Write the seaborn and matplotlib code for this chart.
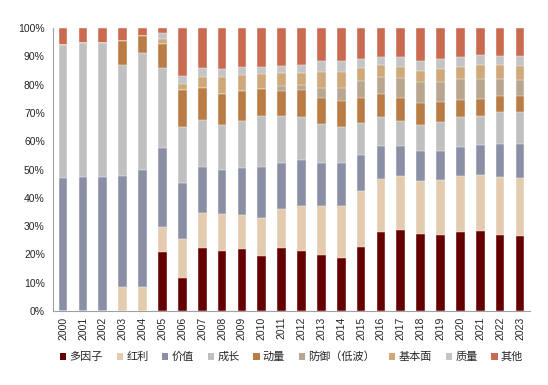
import numpy as np
import pandas as pd
import seaborn as sns
import matplotlib.pyplot as plt
from matplotlib.patches import Patch
from matplotlib.ticker import PercentFormatter

years = [str(y) for y in range(2000, 2024)]

# share of each style per year (%)
duoyinzi = [0, 0, 0, 0, 0, 20.8, 11.6, 22.2, 21.4, 21.9, 19.6, 22.4, 21.4, 19.9, 18.7, 22.6,
            27.8, 28.8, 27.2, 27.0, 27.9, 28.4, 26.9, 26.6]
hongli = [0, 0, 0, 8.6, 8.6, 8.8, 14.0, 12.5, 12.8, 12.2, 13.2, 13.5, 15.8, 17.1, 18.6, 19.9,
          18.7, 18.9, 18.6, 19.4, 19.8, 19.8, 20.6, 20.6]
jiazhi = [47.0, 47.3, 47.3, 39.1, 41.2, 28.0, 19.6, 16.2, 15.6, 16.4, 18.1, 16.6, 16.2, 15.3, 14.9, 12.6,
          11.8, 10.8, 10.8, 10.3, 10.3, 10.5, 11.7, 12.0]
chengzhang = [47.1, 47.5, 47.5, 39.3, 41.4, 28.3, 20.0, 16.6, 15.8, 16.6, 18.0, 16.6, 15.1, 13.7, 13.0, 11.4,
              10.2, 8.7, 9.1, 10.0, 10.6, 10.2, 11.2, 11.0]
dongliang = [0, 0, 0, 8.6, 6.0, 8.5, 13.0, 11.4, 11.2, 10.7, 9.7, 8.8, 9.8, 9.4, 9.1, 8.9,
             8.3, 8.2, 7.9, 7.2, 6.1, 6.1, 5.7, 5.9]
fangyu = [0, 0, 0, 0, 0, 0, 0, 0, 0, 0, 0, 1.7, 1.7, 3.4, 4.6, 5.9,
          5.8, 6.8, 7.2, 7.2, 7.2, 7.1, 6.0, 5.7]
jibenmian = [0, 0, 0, 0, 0, 1.9, 1.9, 3.8, 6.0, 5.6, 5.2, 4.7, 4.3, 5.8, 5.7, 4.7,
             4.3, 4.0, 4.2, 4.5, 4.5, 5.0, 4.8, 4.9]
zhiliang = [0, 0, 0, 0, 0, 1.9, 3.1, 3.2, 2.9, 2.9, 2.6, 2.3, 2.7, 3.6, 3.7, 3.1,
            2.9, 3.5, 3.4, 3.5, 3.4, 3.3, 3.3, 3.4]

labels = ['多因子', '红利', '价值', '成长', '动量', '防御（低波）', '基本面', '质量', '其他']
colors = ['#650000', '#E2CBAE', '#8A8FA5', '#C0C0C0', '#B97C45', '#B9A690', '#CFA97A', '#C4C4C4', '#CA6A4F']

series = [duoyinzi, hongli, jiazhi, chengzhang, dongliang, fangyu, jibenmian, zhiliang]
df = pd.DataFrame(dict(zip(labels[:-1], series)), index=years)
df['其他'] = 100 - df.sum(axis=1)
cum = df.cumsum(axis=1)

sns.set_style('white')
plt.rcParams['font.family'] = ['Liberation Sans', 'Noto Sans CJK SC']

fig = plt.figure(figsize=(5.48, 3.85), dpi=100)
ax = fig.add_axes([0.097, 0.192, 0.870, 0.735])

# draw cumulative tops from the last series down so each layer covers the one above
for lab, col in reversed(list(zip(labels, colors))):
    sns.barplot(x=years, y=cum[lab].values, color=col, width=0.44, ax=ax,
                edgecolor='white', linewidth=0.3, saturation=1)

ax.set_ylim(0, 100)
ax.set_xlim(-0.5, len(years) - 0.5)
ax.set_yticks(np.arange(0, 101, 10))
ax.yaxis.set_major_formatter(PercentFormatter(decimals=0))
ax.set_xticks(np.arange(len(years)))
ax.set_xticklabels(years, rotation=90)
ax.set_xticks(np.arange(-0.5, len(years)), minor=True)
ax.tick_params(axis='x', which='major', length=0, labelsize=7.5, pad=4)
ax.tick_params(axis='x', which='minor', length=4, color='#A0A0A0', width=0.8, direction='out')
ax.tick_params(axis='y', length=4, color='#A0A0A0', width=0.8, labelsize=7.5, pad=2, direction='out')
ax.set_xlabel('')
ax.set_ylabel('')
for s in ['top', 'right']:
    ax.spines[s].set_visible(False)
for s in ['left', 'bottom']:
    ax.spines[s].set_color('#A0A0A0')
    ax.spines[s].set_linewidth(0.8)

handles = [Patch(facecolor=c, edgecolor='none', label=l) for l, c in zip(labels, colors)]
fig.legend(handles=handles, loc='center', bbox_to_anchor=(0.532, 0.073), ncol=9, frameon=False,
           fontsize=8, handlelength=0.55, handleheight=0.55, handletextpad=0.3, columnspacing=1.25)

fig.savefig('out.png', dpi=100)
